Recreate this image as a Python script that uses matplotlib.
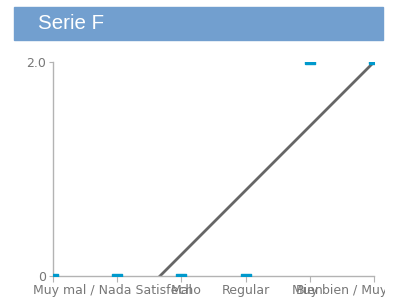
import numpy as np
from matplotlib import pyplot as plt
from matplotlib.patches import Rectangle
from matplotlib.transforms import Bbox

# series F answers per category (position 0 is the unlabelled start)
positions = [0, 1, 2, 3, 4, 5]
values = [0, 0, 0, 0, 2, 2]
tick_labels = ['', 'Muy mal / Nada Satisfecho', 'Mal', 'Regular', 'Bien',
               'Muy bien / Muy Satisfecho']
title = 'Serie F'

W, H = 399, 302
fig = plt.figure(figsize=(W / 100, H / 100), dpi=100)

# title banner
fig.patches.append(Rectangle((14 / W, 1 - 40 / H), (383 - 14) / W, 33 / H,
                             transform=fig.transFigure, color='#729fcf', zorder=0))
fig.text(38 / W, 1 - 23.5 / H, title, color='white', fontsize=14.8,
         family='Liberation Sans', va='center', ha='left')

ax = fig.add_axes([53 / W, 1 - 276 / H, (374 - 53) / W, (276 - 62) / H])
ax.set_xlim(0, 5)
ax.set_ylim(0, 2)

# linear trend over the labelled categories
slope, icpt = np.polyfit(positions[1:], values[1:], 1)
xs = np.array([0, 5])
ax.plot(xs, slope * xs + icpt, color='#666666', lw=2, zorder=2)

marker = [(-1, -0.5), (1, -0.5), (1, 0.5), (-1, 0.5), (-1, -0.5)]
ax.plot(positions, values, ls='none', marker=marker, ms=7, color='#0099cc',
        mec='#0099cc', zorder=3)

for s in ['top', 'right']:
    ax.spines[s].set_visible(False)
for s in ['left', 'bottom']:
    ax.spines[s].set_color('#b3b3b3')
    ax.spines[s].set_linewidth(1)

ax.set_yticks([0, 2])
ax.set_yticklabels(['0', '2.0'])
ax.set_xticks(positions)
ax.set_xticklabels(tick_labels)
ax.tick_params(axis='both', colors='#b3b3b3', labelcolor='#777777',
               labelsize=9, length=4)
ax.tick_params(axis='y', length=3, pad=2)
ax.tick_params(axis='x', pad=2)

clip = Bbox.from_extents(0, 0, 385, H)
for lab in ax.get_xticklabels():
    lab.set_clip_box(clip)
    lab.set_clip_on(True)

fig.savefig('out.png', dpi=100)
